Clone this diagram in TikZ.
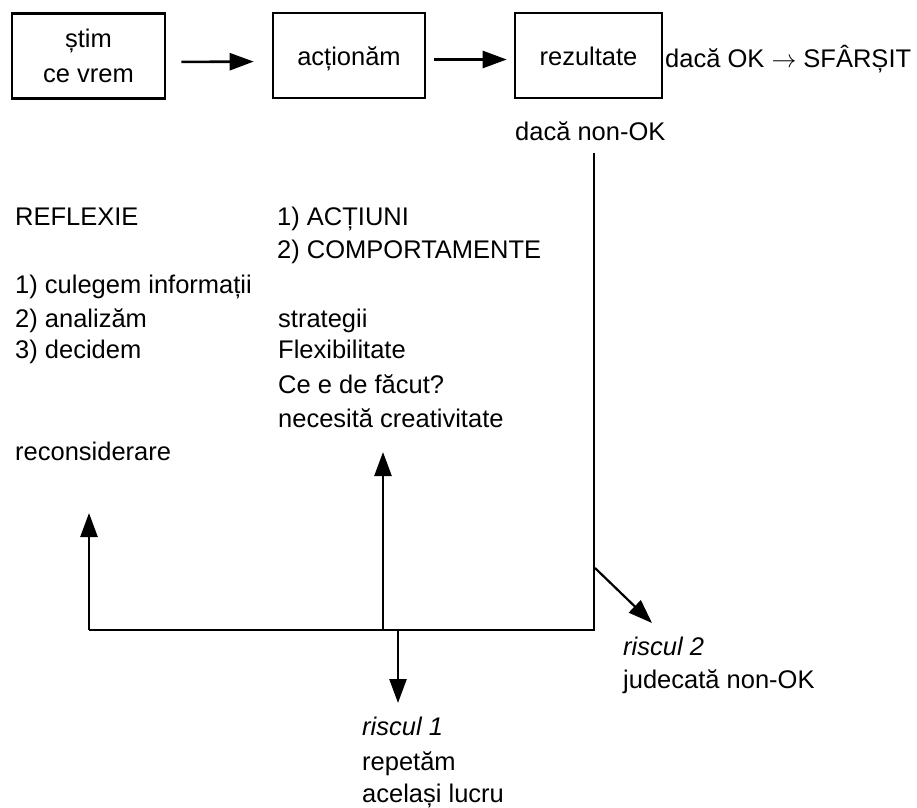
\documentclass[tikz,border=0pt]{standalone}
\usepackage{fontspec}
\setmainfont{Liberation Sans}
\usetikzlibrary{arrows.meta}
\begin{document}
\begin{tikzpicture}[x=1pt,y=-1pt,
  every node/.style={font=\fontsize{25.5}{35}\selectfont, inner sep=0pt},
  box/.style={draw, line width=2.6pt, minimum height=85pt, align=center},
  oneline/.style={text height=19pt, text depth=0pt},
  lbl/.style={anchor=base west},
  ln/.style={line width=2.4pt},
  arr/.style={line width=2.6pt, -{Triangle[length=24pt,width=17pt]}}
]
\useasboundingbox (0,0) rectangle (917,807);

% top row: the three steps
\node[box, minimum width=153pt] (know) at (88.5,56) {știm\\ce vrem};
\node[box, oneline, minimum width=152pt] (act) at (349,55.5) {acționăm};
\node[box, oneline, minimum width=147pt] (res) at (588.5,55.5) {rezultate};

\draw[arr, shorten <=15pt, shorten >=18pt] ([yshift=-6pt]know.east) -- ([yshift=-6pt]act.west);
\draw[arr, shorten <=8pt, shorten >=7pt] ([yshift=-4pt]act.east) -- ([yshift=-4pt]res.west);

\node[lbl] (ok)    at (665,67)  {dacă OK $\rightarrow$ SFÂRȘIT};
\node[lbl] (nonok) at (515,140) {dacă non-OK};

% two columns of notes
\node[lbl] (refl)  at (15,225)  {REFLEXIE};
\node[lbl] (a1)    at (277,225) {1) ACȚIUNI};
\node[lbl] (a2)    at (277,258) {2) COMPORTAMENTE};
\node[lbl] (r1)    at (15,293)  {1) culegem informații};
\node[lbl] (r2)    at (15,327)  {2) analizăm};
\node[lbl] (r3)    at (15,358)  {3) decidem};
\node[lbl] (s1)    at (278,327) {strategii};
\node[lbl] (s2)    at (278,358) {Flexibilitate};
\node[lbl] (s3)    at (278,393) {Ce e de făcut?};
\node[lbl] (s4)    at (278,427) {necesită creativitate};
\node[lbl] (recon) at (15,460)  {reconsiderare};

% risks
\node[lbl] (risk2) at (623,655) {\itshape riscul 2};
\node[lbl] (judg)  at (623,688) {judecată non-OK};
\node[lbl] (risk1) at (362,735) {\itshape riscul 1};
\node[lbl] (rep)   at (362,770) {repetăm};
\node[lbl] (same)  at (362,802) {același lucru};

% feedback loop
\coordinate (drop)    at (594,153);
\coordinate (corner)  at (594,630);
\coordinate (lfoot)   at (89,630);
\coordinate (ltip)    at (89,513);
\coordinate (mfoot)   at (383,630);
\coordinate (mtip)    at (383,452);
\coordinate (dfoot)   at (398,630);
\coordinate (dtip)    at (398,703);
\coordinate (sfoot)   at (595,568);
\coordinate (stip)    at (652,623);

\draw[ln] (drop) -- (corner) -- (lfoot);
\draw[arr] (lfoot) -- (ltip);
\draw[arr] (mfoot) -- (mtip);
\draw[arr] (dfoot) -- (dtip);
\draw[arr, line width=2.2pt] (sfoot) -- (stip);
\end{tikzpicture}
\end{document}
